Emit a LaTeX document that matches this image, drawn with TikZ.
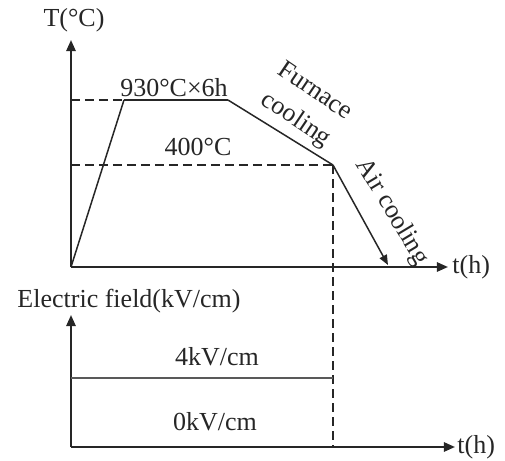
\documentclass[tikz,border=0pt]{standalone}
\usepackage{fontspec}
\setmainfont{Liberation Serif}
\usetikzlibrary{positioning,arrows.meta}
\tikzset{
  axisline/.style={-{Triangle[length=5.5pt,width=4.6pt]}, line width=1pt, draw=black!85},
  curveline/.style={line width=0.75pt, draw=black!85},
  guideline/.style={line width=0.75pt, draw=black!85, dash pattern=on 4.5pt off 2.5pt},
  coolarrow/.style={-{Triangle[length=5pt,width=4pt]}, line width=0.75pt, draw=black!85},
  fieldline/.style={line width=0.8pt, draw=black!65},
  plotlabel/.style={font=\fontsize{13}{17}\selectfont, text=black!85, inner sep=1pt}
}

\begin{document}
\begin{tikzpicture}[x=0.5pt, y=-0.5pt]
  \useasboundingbox (0,0) rectangle (505,461);
  % temperature profile
  \coordinate (origT) at (71,267);
  \coordinate (topT) at (71,40);
  \coordinate (endT) at (448,267);
  \coordinate (holdY) at (71,100);
  \coordinate (heatS) at (124,100);
  \coordinate (heatE) at (228,100);
  \coordinate (coolY) at (71,165);
  \coordinate (cool) at (333,165);
  \coordinate (airE) at (388,265);
  % electric field
  \coordinate (origE) at (71,447);
  \coordinate (topE) at (71,315);
  \coordinate (endE) at (455,447);
  \coordinate (fieldS) at (71,378);
  \coordinate (fieldE) at (333,378);
  \coordinate (stopE) at (333,447);

  \draw[guideline] (holdY) -- (heatS);
  \draw[guideline] (coolY) -- node[plotlabel, above=3pt, xshift=-2pt] (lowT) {400°C} (cool);
  \draw[guideline] (cool) -- (stopE);
  \draw[axisline] (origT) -- (topT);
  \draw[axisline] (origT) -- (endT);
  \draw[curveline] (origT) -- (heatS);
  \draw[curveline] (heatS) -- node[plotlabel, above=0pt, xshift=-1pt] (holdT) {930°C×6h} (heatE);
  \draw[curveline] (heatE) -- (cool);
  \draw[coolarrow] (cool) -- (airE);
  \node[plotlabel, above=3pt of topT, xshift=1.5pt] (tempax) {T(°C)};
  \node[plotlabel, right=1pt of endT] (timeT) {t(h)};
  \node[plotlabel, rotate=-34, align=center] (furnace) at (305,106) {Furnace\\cooling};
  \node[plotlabel, rotate=-59] (air) at (392,212) {Air cooling};

  \draw[axisline] (origE) -- (topE);
  \draw[axisline] (origE) -- (endE);
  \draw[fieldline] (fieldS) -- node[plotlabel, above=4.5pt, xshift=7.5pt] (onE) {4kV/cm} (fieldE);
  \node[plotlabel] (offE) at (215,422) {0kV/cm};
  \node[plotlabel, above=0pt of topE, xshift=29pt] (fieldax) {Electric field(kV/cm)};
  \node[plotlabel, right=0pt of endE] (timeE) {t(h)};
\end{tikzpicture}
\end{document}
